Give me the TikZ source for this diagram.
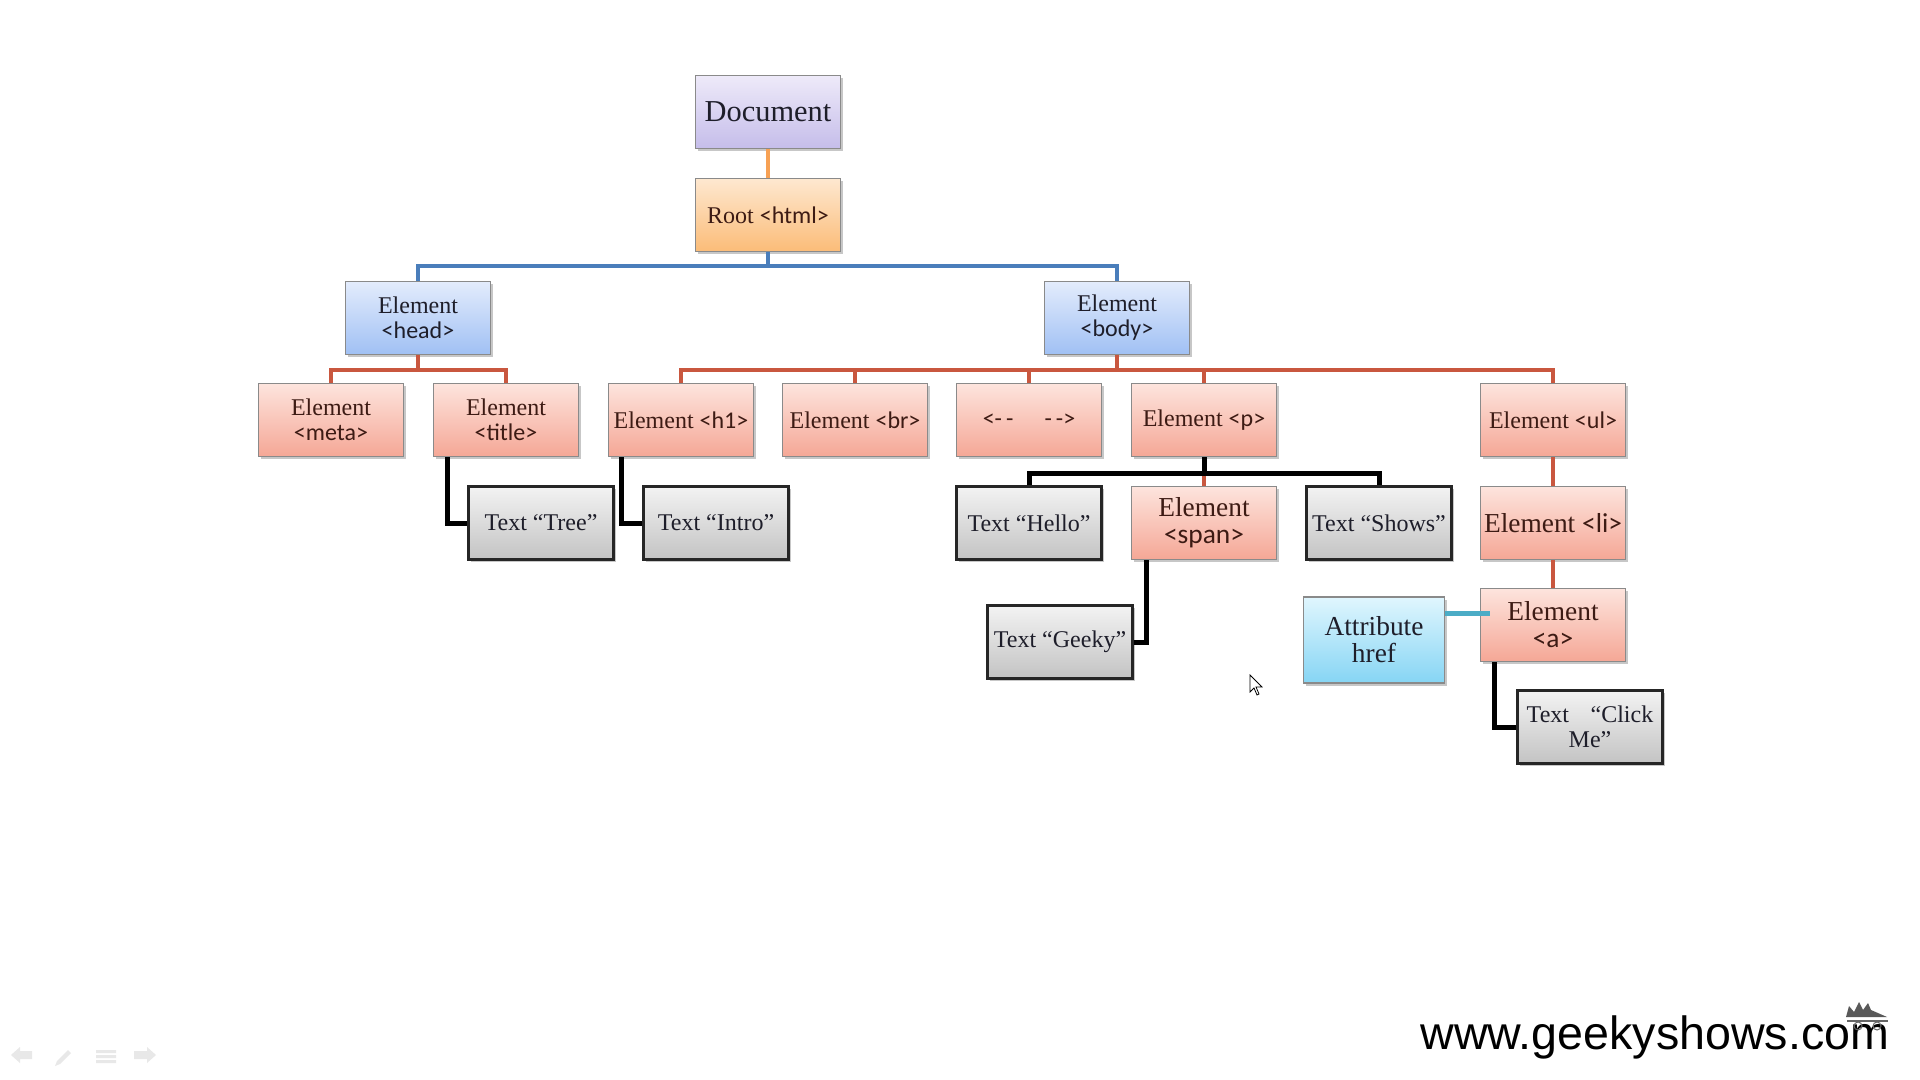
\documentclass[tikz,border=0pt]{standalone}
\usepackage{fontspec}
\setmainfont{Liberation Serif}
\newfontfamily\tagfont{Carlito}
\newfontfamily\webfont{Liberation Sans}
\usetikzlibrary{shadows}

\newcommand\htag[1]{{\tagfont #1}}

\definecolor{boxedge}{HTML}{8A8A8A}
\definecolor{txtedge}{HTML}{262626}
\definecolor{docTop}{HTML}{EEEAF9}
\definecolor{docBot}{HTML}{C5BDEA}
\definecolor{rootTop}{HTML}{FEE8D0}
\definecolor{rootBot}{HTML}{FBBC78}
\definecolor{headTop}{HTML}{E3ECFC}
\definecolor{headBot}{HTML}{A0C0F4}
\definecolor{elTop}{HTML}{FDE4DD}
\definecolor{elBot}{HTML}{F5A796}
\definecolor{txTop}{HTML}{F3F3F3}
\definecolor{txBot}{HTML}{C3C3C3}
\definecolor{atTop}{HTML}{E0F6FE}
\definecolor{atBot}{HTML}{86D5F4}
\definecolor{lnRed}{HTML}{C9573F}
\definecolor{lnBlue}{HTML}{4A7EBB}
\definecolor{lnOrange}{HTML}{F7A154}
\definecolor{lnCyan}{HTML}{4BACC6}
\definecolor{inkDark}{HTML}{1E1E2A}
\definecolor{inkRed}{HTML}{3D1B14}

\begin{document}
\begin{tikzpicture}[x=0.5pt,y=-0.5pt,
  box/.style={rectangle, minimum width=72.5pt, minimum height=36.5pt,
    inner sep=1pt, align=center, font=\fontsize{12}{12.5}\selectfont,
    drop shadow={shadow xshift=1.3pt, shadow yshift=-1.3pt, opacity=0.22, fill=black}},
  docbox/.style={box, draw=boxedge, line width=0.6pt, top color=docTop,
    bottom color=docBot, text=inkDark, font=\fontsize{15.2}{16}\selectfont},
  rootbox/.style={box, draw=boxedge, line width=0.6pt, top color=rootTop,
    bottom color=rootBot, text=inkRed},
  headbox/.style={box, draw=boxedge, line width=0.6pt, top color=headTop,
    bottom color=headBot, text=inkDark},
  elbox/.style={box, draw=boxedge, line width=0.6pt, top color=elTop,
    bottom color=elBot, text=inkRed},
  bigel/.style={elbox, font=\fontsize{13.7}{13.5}\selectfont},
  txbox/.style={box, draw=txtedge, line width=1.1pt, top color=txTop,
    bottom color=txBot, text=inkDark},
  atbox/.style={box, draw=boxedge, line width=0.6pt, top color=atTop,
    bottom color=atBot, text=inkDark, minimum width=70.5pt,
    minimum height=43pt, font=\fontsize{13.7}{13.5}\selectfont},
  redline/.style={draw=lnRed, line width=2pt},
  blueline/.style={draw=lnBlue, line width=2pt},
  orangeline/.style={draw=lnOrange, line width=2pt},
  blackline/.style={draw=black, line width=2.5pt},
  cyanline/.style={draw=lnCyan, line width=2.5pt},
  faint/.style={fill=black!9, draw=none}
]
\useasboundingbox (0,0) rectangle (1920,1080);
\fill[white] (0,0) rectangle (1920,1080);

% ---- tree nodes ----
\node[docbox]  (doc)   at (768,112)  {Document};
\node[rootbox] (root)  at (768,215)  {Root \htag{<html>}};

\node[headbox] (head)  at (418,318)  {Element\\\htag{<head>}};
\node[headbox] (body)  at (1117,318) {Element\\\htag{<body>}};

\node[elbox] (meta)  at (331,420)  {Element\\\htag{<meta>}};
\node[elbox] (title) at (506,420)  {Element\\\htag{<title>}};
\node[elbox] (h1)    at (681,420)  {Element \htag{<h1>}};
\node[elbox] (br)    at (855,420)  {Element \htag{<br>}};
\node[elbox] (cmt)   at (1029,420) {\htag{<-\,-\hspace{1.3em}-\,->}};
\node[elbox] (p)     at (1204,420) {Element \htag{<p>}};
\node[elbox] (ul)    at (1553,420) {Element \htag{<ul>}};

\node[txbox] (tree)  at (541,523)  {Text “Tree”};
\node[txbox] (intro) at (716,523)  {Text “Intro”};
\node[txbox] (hello) at (1029,523) {Text “Hello”};
\node[bigel] (span)  at (1204,523) {Element\\\htag{<span>}};
\node[txbox] (shows) at (1379,523) {Text “Shows”};
\node[bigel] (li)    at (1553,523) {Element \htag{<li>}};

\node[txbox] (geeky) at (1060,642) {Text “Geeky”};
\node[atbox] (href)  at (1374,640) {Attribute\\href};
\node[bigel] (a)     at (1553,625) {Element\\\htag{<a>}};
\node[txbox] (click) at (1590,727) {Text\hspace{0.9em}“Click\\Me”};

% ---- bus points ----
\coordinate (rootbus) at (768,266);
\coordinate (headbus) at (418,370);
\coordinate (bodybus) at (1117,370);
\coordinate (pbus)    at (1204,473);
\coordinate (hrefend) at (1490,613);

% ---- connectors ----
\draw[orangeline] (doc.south) -- (root.north);

\draw[blueline] (root.south) -- (rootbus);
\draw[blueline] (head.north) |- (rootbus) -| (body.north);

\draw[redline] (head.south) -- (headbus);
\draw[redline] (meta.north) |- (headbus) -| (title.north);

\draw[redline] (body.south) -- (bodybus);
\draw[redline] (h1.north) |- (bodybus) -| (ul.north);
\draw[redline] (br.north) -- (br.north |- bodybus);
\draw[redline] (cmt.north) -- (cmt.north |- bodybus);
\draw[redline] (p.north) -- (p.north |- bodybus);

\draw[redline] (pbus) -- (span.north);
\draw[blackline] (p.south) -- (pbus);
\draw[blackline] (hello.north) |- (pbus) -| (shows.north);

\draw[blackline] ([xshift=7.5pt]title.south west) |- (tree.west);
\draw[blackline] ([xshift=7pt]h1.south west) |- (intro.west);
\draw[blackline] ([xshift=8pt]span.south west) |- (geeky.east);
\draw[blackline] ([xshift=7.5pt]a.south west) |- (click.west);

\draw[redline] (ul.south) -- (li.north);
\draw[redline] (li.south) -- (a.north);
\draw[cyanline] (href.east |- hrefend) -- (hrefend);

% ---- pointer ----
\draw[black, line width=0.4pt, fill=white]
  (1250,675) -- (1250,692) -- (1254,688) -- (1257,695) -- (1259,694)
  -- (1256,687) -- (1262,687) -- cycle;

% ---- website mark ----
\node[anchor=base west, inner sep=0pt, text=black,
  font=\webfont\fontsize{23.3}{24}\selectfont] (site) at (1420,1049)
  {www.geekyshows.com};
\fill[black!65] (1846,1017) -- (1849,1006) -- (1854,1012) -- (1859,1002)
  -- (1863,1010) -- (1868,1003) -- (1871,1010) -- (1887,1017) -- cycle;
\draw[black!60, line width=0.6pt] (1847,1021) -- (1888,1021);
\draw[black!60, line width=0.5pt] (1858,1026) circle (4) (1877,1026) circle (4);

% ---- faint slide controls ----
\fill[faint] (11,1055) -- (20,1047) -- (20,1051) -- (32,1051) -- (32,1059)
  -- (20,1059) -- (20,1063) -- cycle;
\fill[faint] (55,1066) -- (57,1061) -- (68,1050) -- (71,1053) -- (60,1064) -- cycle;
\fill[faint] (96,1050) rectangle (116,1053) (96,1055) rectangle (116,1058)
  (96,1060) rectangle (116,1063);
\fill[faint] (156,1055) -- (147,1047) -- (147,1051) -- (134,1051) -- (134,1059)
  -- (147,1059) -- (147,1063) -- cycle;
\end{tikzpicture}
\end{document}
